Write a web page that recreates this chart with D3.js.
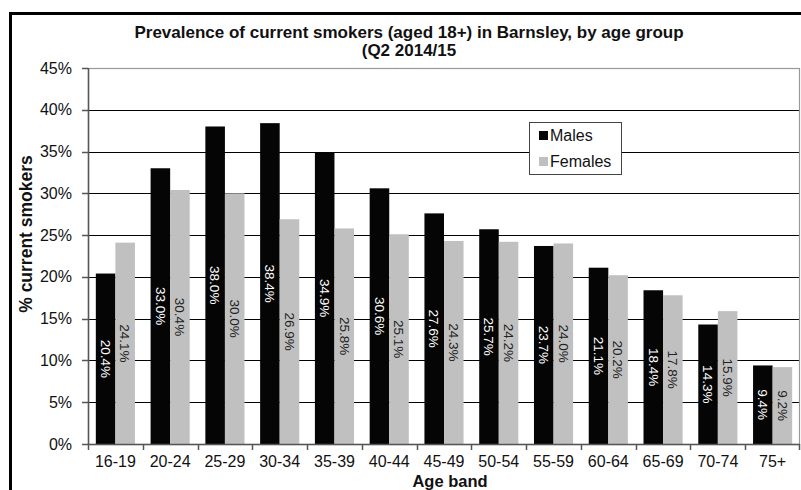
<!DOCTYPE html>
<html>
<head>
<meta charset="utf-8">
<script src="https://cdn.jsdelivr.net/npm/d3@7"></script>
<style>
  html, body { margin: 0; padding: 0; background: #fff; }
  svg { display: block; font-family: "Liberation Sans", Arial, sans-serif; }
</style>
</head>
<body>
<svg id="chart" width="801" height="490"></svg>
<script>
// Smoking prevalence by age band, Barnsley Q2 2014/15
const categories = ["16-19","20-24","25-29","30-34","35-39","40-44","45-49","50-54","55-59","60-64","65-69","70-74","75+"];
const males   = [20.4, 33.0, 38.0, 38.4, 34.9, 30.6, 27.6, 25.7, 23.7, 21.1, 18.4, 14.3, 9.4];
const females = [24.1, 30.4, 30.0, 26.9, 25.8, 25.1, 24.3, 24.2, 24.0, 20.2, 17.8, 15.9, 9.2];
const seriesNames = ["Males", "Females"];
const yTicks = [0, 5, 10, 15, 20, 25, 30, 35, 40, 45];

const colors = { Males: "#050505", Females: "#c0c0c0" };

const svg = d3.select("#chart");
const W = 801, H = 490;
const plot = { left: 88, right: 800, top: 68, bottom: 444 };

// outer frame
svg.append("rect")
  .attr("x", 10.5).attr("y", 13.5)
  .attr("width", W + 10).attr("height", H + 10)
  .attr("fill", "none").attr("stroke", "#000").attr("stroke-width", 3);

const x = d3.scaleBand().domain(categories).range([plot.left, plot.right]).paddingInner(0).paddingOuter(0);
const xs = d3.scaleBand().domain(seriesNames).range([0, x.bandwidth()]).paddingInner(0).paddingOuter(0.4);
const y = d3.scaleLinear().domain([0, 45]).range([plot.bottom, plot.top]);

// gridlines
svg.append("g").selectAll("line").data(yTicks.filter(t => t > 0 && t < 45)).join("line")
  .attr("x1", plot.left).attr("x2", plot.right)
  .attr("y1", d => Math.round(y(d)) + 0.5).attr("y2", d => Math.round(y(d)) + 0.5)
  .attr("stroke", "#000").attr("stroke-width", 1);

// plot border
svg.append("rect")
  .attr("x", plot.left + 0.5).attr("y", plot.top + 0.5)
  .attr("width", plot.right - plot.left - 1).attr("height", plot.bottom - plot.top)
  .attr("fill", "none").attr("stroke", "#999").attr("stroke-width", 1.2);

// bars
const rows = categories.map((c, i) => ({ cat: c, Males: males[i], Females: females[i] }));
const groups = svg.append("g").selectAll("g").data(rows).join("g")
  .attr("transform", d => `translate(${x(d.cat)},0)`);

groups.selectAll("rect").data(d => seriesNames.map(s => ({ s, v: d[s] }))).join("rect")
  .attr("x", d => xs(d.s))
  .attr("width", xs.bandwidth())
  .attr("y", d => y(d.v))
  .attr("height", d => y(0) - y(d.v))
  .attr("fill", d => colors[d.s]);

// rotated value labels centred in each bar
groups.selectAll("text").data(d => seriesNames.map(s => ({ s, v: d[s] }))).join("text")
  .attr("transform", d => `translate(${xs(d.s) + xs.bandwidth() / 2},${(y(d.v) + y(0)) / 2}) rotate(90)`)
  .attr("text-anchor", "middle")
  .attr("dy", "0.35em")
  .attr("font-size", 13.5)
  .attr("fill", d => d.s === "Males" ? "#fff" : "#222")
  .text(d => d.v.toFixed(1) + "%");

// x axis
const xAxis = svg.append("g")
  .attr("transform", `translate(0,${plot.bottom})`);
xAxis.append("line")
  .attr("x1", plot.left).attr("x2", plot.right)
  .attr("y1", 0.5).attr("y2", 0.5).attr("stroke", "#555").attr("stroke-width", 1.5);
const boundaries = categories.map(c => x(c)).concat([plot.right - 1]);
xAxis.selectAll("line.tick").data(boundaries).join("line")
  .attr("class", "tick")
  .attr("x1", d => Math.round(d) + 0.5).attr("x2", d => Math.round(d) + 0.5)
  .attr("y1", 0).attr("y2", 6).attr("stroke", "#555").attr("stroke-width", 1.5);
xAxis.selectAll("text").data(categories).join("text")
  .attr("x", d => x(d) + x.bandwidth() / 2)
  .attr("y", 23)
  .attr("text-anchor", "middle")
  .attr("font-size", 16)
  .attr("fill", "#111")
  .text(d => d);

// y axis
const yAxis = svg.append("g").attr("transform", `translate(${plot.left},0)`);
yAxis.append("line")
  .attr("x1", 0.5).attr("x2", 0.5).attr("y1", plot.top).attr("y2", plot.bottom)
  .attr("stroke", "#555").attr("stroke-width", 1.5);
yAxis.selectAll("line.tick").data(yTicks).join("line")
  .attr("class", "tick")
  .attr("x1", -6).attr("x2", 0)
  .attr("y1", d => Math.round(y(d)) + 0.5).attr("y2", d => Math.round(y(d)) + 0.5)
  .attr("stroke", "#555").attr("stroke-width", 1.5);
yAxis.selectAll("text").data(yTicks).join("text")
  .attr("x", -16)
  .attr("y", d => y(d))
  .attr("dy", "0.35em")
  .attr("text-anchor", "end")
  .attr("font-size", 16)
  .attr("fill", "#111")
  .text(d => d + "%");

// title
const title = svg.append("text")
  .attr("text-anchor", "middle")
  .attr("font-size", 17).attr("font-weight", "bold").attr("fill", "#111");
title.append("tspan").attr("x", 409).attr("y", 38).text("Prevalence of current smokers (aged 18+) in Barnsley, by age group");
title.append("tspan").attr("x", 409).attr("y", 56).text("(Q2 2014/15");

// axis titles
svg.append("text")
  .attr("transform", `translate(32,234) rotate(-90)`)
  .attr("text-anchor", "middle")
  .attr("font-size", 17.5).attr("font-weight", "bold").attr("fill", "#111")
  .text("% current smokers");
svg.append("text")
  .attr("x", 450).attr("y", 486.5)
  .attr("text-anchor", "middle")
  .attr("font-size", 16.5).attr("font-weight", "bold").attr("fill", "#111")
  .text("Age band");

// legend
const legend = svg.append("g").attr("transform", "translate(529,122)");
legend.append("rect")
  .attr("x", 0.5).attr("y", 0.5).attr("width", 92).attr("height", 52)
  .attr("fill", "#fff").attr("stroke", "#444").attr("stroke-width", 1);
seriesNames.forEach((s, i) => {
  legend.append("rect")
    .attr("x", 10).attr("y", 9 + i * 26).attr("width", 9).attr("height", 9)
    .attr("fill", colors[s]);
  legend.append("text")
    .attr("x", 21).attr("y", 13.5 + i * 26).attr("dy", "0.35em")
    .attr("font-size", 16).attr("fill", "#111")
    .text(s);
});
</script>
</body>
</html>
